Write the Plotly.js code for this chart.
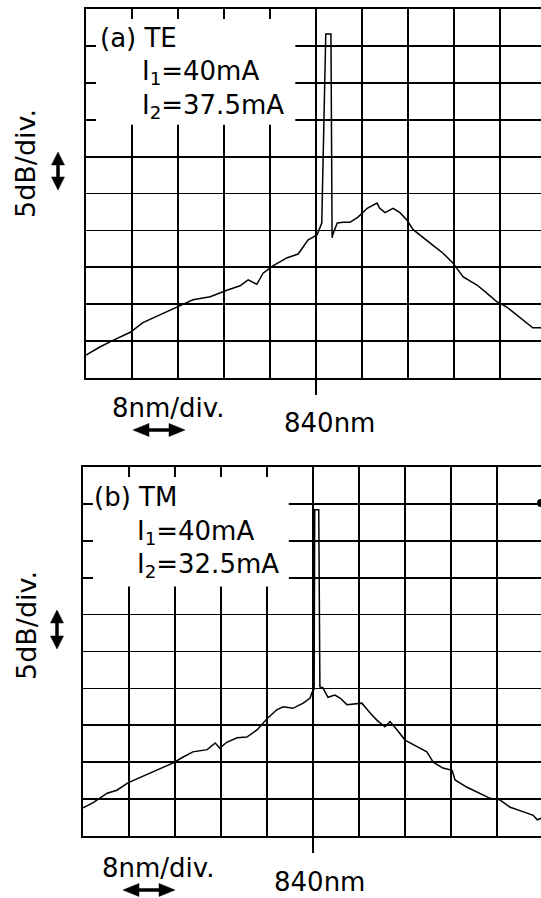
<!DOCTYPE html>
<html><head><meta charset="utf-8">
<script src="https://cdn.plot.ly/plotly-3.0.1.min.js"></script>
<style>html,body{margin:0;padding:0;overflow:hidden;background:#fff}#chart{width:548px;height:898px}</style>
</head><body><div id="chart"></div>
<script>
// ---- data (wavelength in nm, relative power in dB) ----
const teWavelength = [800.0, 802.4, 804.7, 807.7, 809.9, 813.4, 815.8, 818.6, 821.6, 824.5, 826.8, 828.2, 829.7, 830.8, 832.5, 835.0, 836.9, 838.6, 840.2, 841.0, 841.7, 842.6, 842.8, 843.0, 843.7, 844.7, 845.9, 847.3, 848.9, 850.6, 851.1, 852.0, 853.4, 854.6, 855.8, 856.9, 858.6, 860.3, 862.1, 863.8, 865.6, 868.0, 869.7, 871.5, 873.2, 875.0, 876.7, 877.7, 879.1, 880.0];
const tePower = [-46.9, -45.8, -44.9, -43.8, -42.5, -41.2, -40.4, -39.4, -39.0, -38.1, -37.5, -36.7, -37.3, -35.8, -34.8, -33.7, -33.2, -31.3, -30.6, -29.0, -3.4, -3.4, -31.0, -30.4, -29.0, -28.9, -28.9, -28.2, -27.0, -26.3, -27.0, -27.6, -27.0, -27.6, -28.6, -29.9, -30.9, -32.0, -33.1, -34.4, -36.3, -37.4, -38.5, -39.7, -40.4, -41.5, -42.6, -43.2, -43.2, -43.5];
const tmWavelength = [800.0, 801.7, 804.2, 805.9, 807.8, 809.9, 811.7, 813.9, 815.7, 817.2, 819.1, 821.6, 823.0, 823.8, 825.0, 826.8, 828.5, 830.3, 832.0, 833.7, 834.8, 836.5, 838.3, 839.5, 839.8, 840.2, 840.3, 841.0, 841.2, 841.7, 842.6, 843.8, 844.7, 845.9, 847.7, 848.5, 849.9, 851.1, 852.5, 853.4, 854.6, 856.0, 858.1, 859.8, 860.9, 862.6, 864.2, 864.7, 866.8, 869.0, 870.8, 872.5, 874.3, 876.5, 878.3, 879.0, 879.7, 880.0];
const tmPower = [-46.2, -45.5, -44.2, -43.8, -42.8, -42.1, -41.5, -40.8, -40.1, -39.4, -38.6, -38.3, -37.4, -38.1, -37.3, -36.7, -36.6, -35.6, -34.1, -32.9, -32.5, -32.7, -32.0, -31.3, -30.6, -30.1, -5.8, -5.8, -29.8, -29.9, -31.2, -30.9, -31.3, -32.2, -32.0, -32.0, -33.3, -34.3, -35.2, -34.5, -35.6, -37.0, -37.9, -38.6, -40.0, -40.8, -41.1, -42.4, -43.4, -44.2, -44.9, -45.1, -46.1, -46.7, -47.2, -47.8, -47.6, -47.7];

const panelTitles = ['(a) TE', '(b) TM'];
const current1Labels = ['I<sub>1</sub>=40mA', 'I<sub>1</sub>=40mA'];
const current2Labels = ['I<sub>2</sub>=37.5mA', 'I<sub>2</sub>=32.5mA'];
const xScaleLabel = '8nm/div.';
const yScaleLabel = '5dB/div.';
const centerLabel = '840nm';
const centerWavelength = 840;
const xRange = [800, 880];
const yRange = [-50, 0];
const xStep = 8;
const yStep = 5;

// ---- layout helpers (pixel -> paper) ----
const W = 548, H = 898;
const px = v => v / W;
const py = v => 1 - v / H;
const FONT = 'DejaVu Sans, Liberation Sans, Arial, sans-serif';

function axisX(domain) {
  return {domain: domain, range: xRange, dtick: xStep, tick0: xRange[0],
    showgrid: true, gridcolor: '#000', gridwidth: 1.8, zeroline: false,
    showticklabels: false, ticks: 'inside', ticklen: 10, tickwidth: 1.8, tickcolor: '#000',
    showline: true, linecolor: '#000', linewidth: 2, mirror: 'ticks', fixedrange: true};
}
function axisY(domain) {
  return {domain: domain, range: yRange, dtick: yStep, tick0: yRange[0],
    showgrid: true, gridcolor: '#000', gridwidth: 1.8, zeroline: false,
    showticklabels: false, ticks: 'inside', ticklen: 10, tickwidth: 1.8, tickcolor: '#000',
    showline: true, linecolor: '#000', linewidth: 2, mirror: 'ticks', fixedrange: true};
}

const traces = [
  {x: teWavelength, y: tePower, xaxis: 'x', yaxis: 'y', mode: 'lines', line: {color: '#000', width: 1.5}, hoverinfo: 'skip'},
  {x: tmWavelength, y: tmPower, xaxis: 'x2', yaxis: 'y2', mode: 'lines', line: {color: '#000', width: 1.5}, hoverinfo: 'skip'}
];

function textAnn(text, x, y, xanchor, size, angle) {
  return {text: text, x: px(x), y: py(y), xref: 'paper', yref: 'paper', xanchor: xanchor, yanchor: 'middle',
    showarrow: false, textangle: angle || 0, font: {family: FONT, size: size || 26, color: '#000'}};
}
// filled double-headed arrow as a path (pixel coords -> paper)
function doubleArrow(x0, y0, x1, y1, headLen, headHalf, shaftHalf) {
  const dx = x1 - x0, dy = y1 - y0, L = Math.hypot(dx, dy);
  const ux = dx / L, uy = dy / L, nx = -uy, ny = ux;
  const P = (a, b) => [x0 + ux * a + nx * b, y0 + uy * a + ny * b];
  const pts = [P(0, 0), P(headLen, -headHalf), P(headLen, -shaftHalf), P(L - headLen, -shaftHalf),
    P(L - headLen, -headHalf), P(L, 0), P(L - headLen, headHalf), P(L - headLen, shaftHalf),
    P(headLen, shaftHalf), P(headLen, headHalf)];
  const d = pts.map((p, i) => (i ? 'L' : 'M') + px(p[0]).toFixed(5) + ',' + py(p[1]).toFixed(5)).join(' ') + ' Z';
  return {type: 'path', xref: 'paper', yref: 'paper', path: d, fillcolor: '#000', line: {color: '#000', width: 0.5}};
}

// panel geometry (pixels)
const panels = [
  {bottom: 378, box: [836.4, -15.7], titleX: 100, curX: 142, lineY: [38, 72, 106], vtext: [26, 164], varrow: [58, 152, 190], hText: [168, 408], harrow: [133, 185, 430], cText: [329, 423]},
  {bottom: 836, box: [835.8, -16.2], titleX: 94, curX: 137, lineY: [497, 532, 565], vtext: [26, 626], varrow: [57, 610, 649], hText: [158, 868], harrow: [123, 175, 890], cText: [319, 882]}
];

const annotations = [];
const shapes = [];
panels.forEach((p, i) => {
  const xa = i === 0 ? 'x' : 'x2', ya = i === 0 ? 'y' : 'y2';
  annotations.push(textAnn(panelTitles[i], p.titleX - 2, p.lineY[0], 'left'));
  annotations.push(textAnn(current1Labels[i], p.curX - 2, p.lineY[1], 'left'));
  annotations.push(textAnn(current2Labels[i], p.curX - 2, p.lineY[2], 'left'));
  annotations.push(textAnn(yScaleLabel, p.vtext[0], p.vtext[1], 'center', 27, -90));
  annotations.push(textAnn(xScaleLabel, p.hText[0], p.hText[1], 'center'));
  annotations.push(textAnn(centerLabel, p.cText[0], p.cText[1], 'center'));
  shapes.push(doubleArrow(p.varrow[0], p.varrow[1], p.varrow[0], p.varrow[2], 13, 6.5, 1.5));
  shapes.push(doubleArrow(p.harrow[0], p.harrow[2], p.harrow[1], p.harrow[2], 16, 6.5, 1.5));
  // white label box hiding the grid behind the legend text
  shapes.push({type: 'rect', xref: xa, yref: ya, x0: xRange[0], x1: p.box[0], y0: yRange[1], y1: p.box[1],
    fillcolor: '#fff', line: {width: 0}, layer: 'between'});
  // centre-wavelength marker below the axis
  shapes.push({type: 'line', xref: xa, yref: 'paper', x0: centerWavelength, x1: centerWavelength,
    y0: py(p.bottom), y1: py(p.bottom + 17), line: {color: '#000', width: 2}});
});
// small marker dot at right edge of panel (b)
shapes.push({type: 'circle', xref: 'paper', yref: 'paper', x0: px(537), x1: px(545), y0: py(507), y1: py(499),
  fillcolor: '#000', line: {color: '#000', width: 0}});

const layout = {
  width: W, height: H, margin: {l: 0, r: 0, t: 0, b: 0},
  paper_bgcolor: '#fff', plot_bgcolor: '#fff', showlegend: false,
  xaxis: Object.assign(axisX([px(86), px(546)]), {anchor: 'y'}),
  yaxis: Object.assign(axisY([py(378), py(9)]), {anchor: 'x'}),
  xaxis2: Object.assign(axisX([px(83), px(543)]), {anchor: 'y2'}),
  yaxis2: Object.assign(axisY([py(836), py(467)]), {anchor: 'x2'}),
  annotations: annotations, shapes: shapes
};

Plotly.newPlot('chart', traces, layout, {staticPlot: true, displayModeBar: false});
</script>
</body></html>
